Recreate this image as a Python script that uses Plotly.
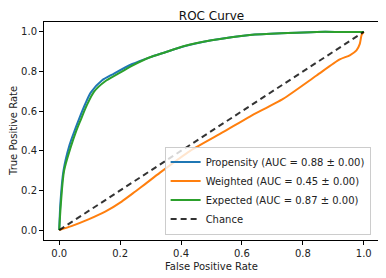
import plotly.graph_objects as go

# Data
prop_fpr = [0, 0.004, 0.014, 0.034, 0.05, 0.065, 0.085, 0.104, 0.14, 0.18, 0.24, 0.30, 0.344, 0.41, 0.5, 0.626, 0.75, 0.845, 0.93, 1.0]
prop_tpr = [0, 0.14, 0.30, 0.43, 0.50, 0.56, 0.635, 0.695, 0.755, 0.79, 0.838, 0.873, 0.895, 0.928, 0.958, 0.985, 0.995, 1.0, 1.0, 1.0]

wt_fpr = [0, 0.04, 0.096, 0.151, 0.205, 0.25, 0.282, 0.331, 0.43, 0.539, 0.626, 0.735, 0.845, 0.921, 0.954, 0.976, 0.987, 0.993, 1.0]
wt_tpr = [0, 0.02, 0.054, 0.093, 0.144, 0.195, 0.232, 0.29, 0.40, 0.495, 0.573, 0.662, 0.78, 0.861, 0.882, 0.907, 0.94, 0.985, 1.0]

exp_fpr = [0, 0.0055, 0.016, 0.038, 0.055, 0.071, 0.09, 0.115, 0.15, 0.191, 0.24, 0.298, 0.344, 0.408, 0.5, 0.626, 0.75, 0.845, 0.93, 1.0]
exp_tpr = [0, 0.135, 0.30, 0.42, 0.497, 0.558, 0.628, 0.70, 0.75, 0.787, 0.83, 0.872, 0.895, 0.928, 0.958, 0.985, 0.995, 1.0, 1.0, 1.0]

chance = [0, 1]

labels = ["Propensity (AUC = 0.88 ± 0.00)",
          "Weighted (AUC = 0.45 ± 0.00)",
          "Expected (AUC = 0.87 ± 0.00)",
          "Chance"]
ticks = [0, 0.2, 0.4, 0.6, 0.8, 1.0]
tick_text = ["0.0", "0.2", "0.4", "0.6", "0.8", "1.0"]

fig = go.Figure()
fig.add_trace(go.Scatter(x=prop_fpr, y=prop_tpr, mode="lines", name=labels[0],
                         line=dict(color="#1f77b4", width=2, shape="spline", smoothing=0.8)))
fig.add_trace(go.Scatter(x=wt_fpr, y=wt_tpr, mode="lines", name=labels[1],
                         line=dict(color="#ff7f0e", width=2, shape="spline", smoothing=0.6)))
fig.add_trace(go.Scatter(x=exp_fpr, y=exp_tpr, mode="lines", name=labels[2],
                         line=dict(color="#2ca02c", width=2, shape="spline", smoothing=0.8)))
fig.add_trace(go.Scatter(x=chance, y=chance, mode="lines", name=labels[3],
                         line=dict(color="rgba(0,0,0,0.8)", width=2, dash="6px,4px")))

axis_common = dict(range=[-0.05, 1.05], tickvals=ticks, ticktext=tick_text, automargin=False,
                   showgrid=False, zeroline=False, showline=True, linecolor="black",
                   linewidth=1, mirror=True, ticks="outside", ticklen=4, tickcolor="black",
                   tickfont=dict(size=10, color="#222"))

# The page body has an 8px default margin, so the figure is 8px smaller on each side
fig.update_layout(
    width=378, height=270,
    margin=dict(l=36, r=7, t=14, b=38),
    paper_bgcolor="white", plot_bgcolor="white",
    font=dict(family="DejaVu Sans", size=10, color="#222"),
    title=dict(text="ROC Curve", x=0.5, xref="paper", xanchor="center",
               yref="container", y=1 - 7.5 / 270, yanchor="middle", automargin=False,
               font=dict(size=12, color="#111")),
    xaxis=dict(**axis_common),
    yaxis=dict(**axis_common),
    annotations=[
        dict(text="False Positive Rate", xref="paper", yref="paper", x=0.5, y=-26 / 218,
             xanchor="center", yanchor="middle", showarrow=False,
             font=dict(size=10, color="#222")),
        dict(text="True Positive Rate", xref="paper", yref="paper", x=-31 / 335, y=0.5,
             xanchor="center", yanchor="middle", textangle=-90, showarrow=False,
             font=dict(size=10, color="#222")),
    ],
    legend=dict(x=0.975, y=0.025, xanchor="right", yanchor="bottom",
                bgcolor="rgba(255,255,255,0.8)", bordercolor="#ccc", borderwidth=1,
                font=dict(size=10), tracegroupgap=0, itemwidth=30),
    showlegend=True,
)

fig.write_html("out.html")
